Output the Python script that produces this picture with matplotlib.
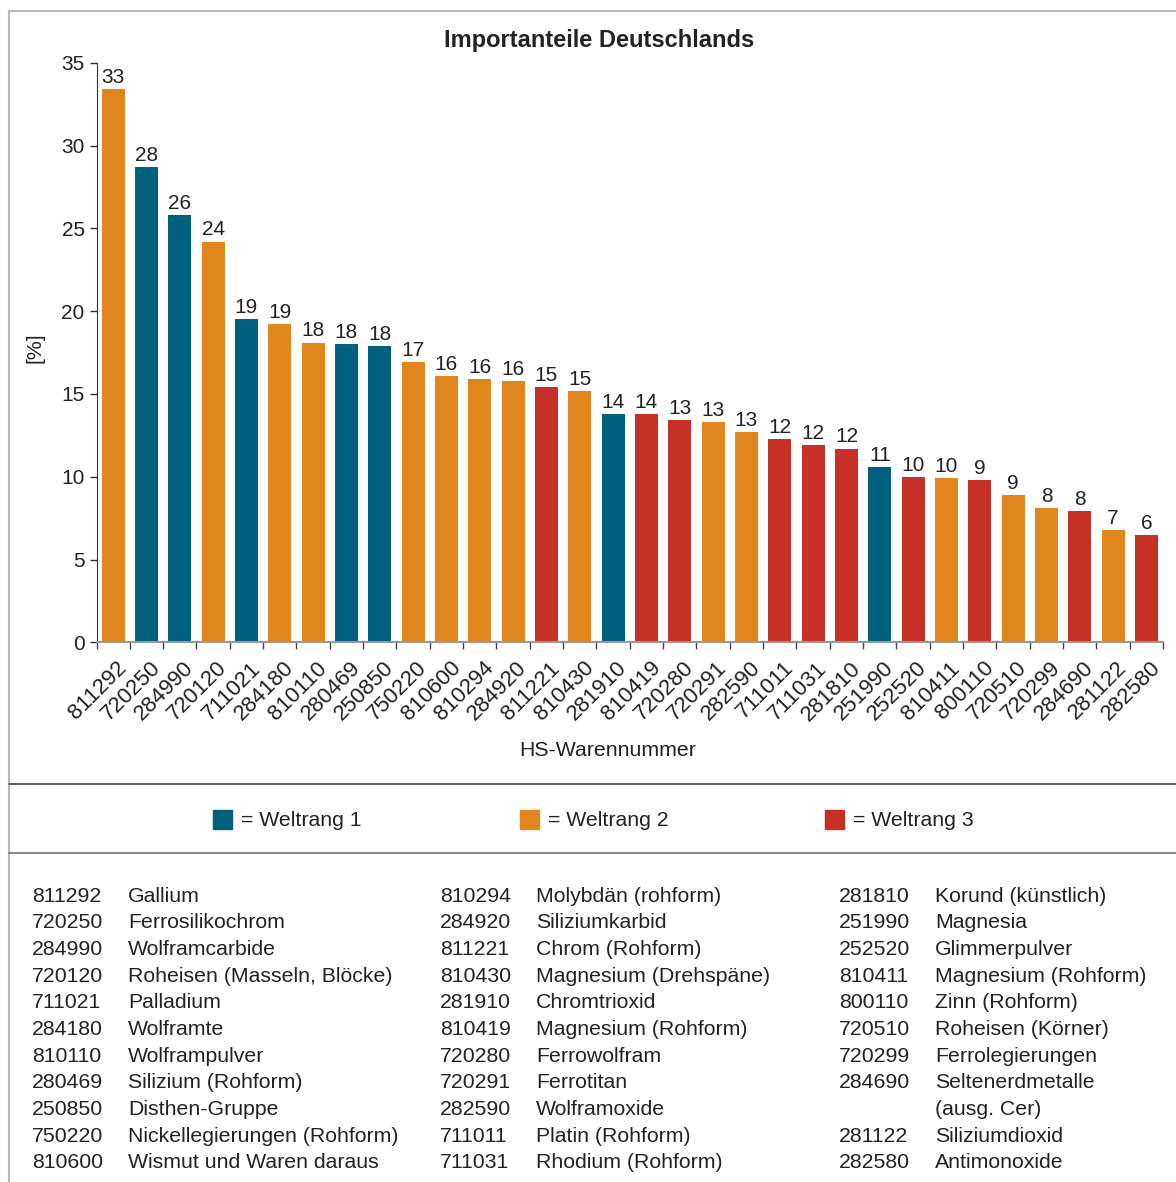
import matplotlib
matplotlib.use("Agg")
import matplotlib.pyplot as plt
from matplotlib.lines import Line2D
from matplotlib.patches import Rectangle
import numpy as np

plt.rcParams['font.family'] = ['Liberation Sans', 'DejaVu Sans']

# HS codes, import share (%) and world rank of Germany
codes = ["811292", "720250", "284990", "720120", "711021", "284180", "810110", "280469",
         "250850", "750220", "810600", "810294", "284920", "811221", "810430", "281910",
         "810419", "720280", "720291", "282590", "711011", "711031", "281810", "251990",
         "252520", "810411", "800110", "720510", "720299", "284690", "281122", "282580"]
shares = [33.4, 28.7, 25.8, 24.2, 19.5, 19.2, 18.1, 18.0, 17.9, 16.9, 16.1, 15.9, 15.8,
          15.4, 15.2, 13.8, 13.8, 13.4, 13.3, 12.7, 12.3, 11.9, 11.7, 10.6, 10.0, 9.9,
          9.8, 8.9, 8.1, 7.9, 6.8, 6.5]
value_labels = ["33", "28", "26", "24", "19", "19", "18", "18", "18", "17", "16", "16", "16",
                "15", "15", "14", "14", "13", "13", "13", "12", "12", "12", "11", "10", "10",
                "9", "9", "8", "8", "7", "6"]
ranks = [2, 1, 1, 2, 1, 2, 2, 1, 1, 2, 2, 2, 2, 3, 2, 1, 3, 3, 2, 2, 3, 3, 3, 1, 3, 2, 3,
         2, 2, 3, 2, 3]

rank_names = ["= Weltrang 1", "= Weltrang 2", "= Weltrang 3"]
rank_colors = {1: "#00607d", 2: "#e0861c", 3: "#c63027"}

# legend list below the chart (code, name), three columns
list_col1 = [("811292", "Gallium"), ("720250", "Ferrosilikochrom"), ("284990", "Wolframcarbide"),
             ("720120", "Roheisen (Masseln, Blöcke)"), ("711021", "Palladium"),
             ("284180", "Wolframte"), ("810110", "Wolframpulver"), ("280469", "Silizium (Rohform)"),
             ("250850", "Disthen-Gruppe"), ("750220", "Nickellegierungen (Rohform)"),
             ("810600", "Wismut und Waren daraus")]
list_col2 = [("810294", "Molybdän (rohform)"), ("284920", "Siliziumkarbid"),
             ("811221", "Chrom (Rohform)"), ("810430", "Magnesium (Drehspäne)"),
             ("281910", "Chromtrioxid"), ("810419", "Magnesium (Rohform)"),
             ("720280", "Ferrowolfram"), ("720291", "Ferrotitan"), ("282590", "Wolframoxide"),
             ("711011", "Platin (Rohform)"), ("711031", "Rhodium (Rohform)")]
list_col3 = [("281810", "Korund (künstlich)"), ("251990", "Magnesia"), ("252520", "Glimmerpulver"),
             ("810411", "Magnesium (Rohform)"), ("800110", "Zinn (Rohform)"),
             ("720510", "Roheisen (Körner)"), ("720299", "Ferrolegierungen"),
             ("284690", "Seltenerdmetalle"), ("", "(ausg. Cer)"), ("281122", "Siliziumdioxid"),
             ("282580", "Antimonoxide")]

W, H = 1176, 1182
fig = plt.figure(figsize=(W / 100, H / 100), dpi=100)
txt = "#222222"
FS = 15.3

def fx(px):
    return px / W

def fy(py):
    return 1 - py / H

# main axes
ax = fig.add_axes([fx(96.5), fy(642.3), fx(1066.6), fy(62.7) - fy(642.3)])
x = np.arange(len(codes))
colors = [rank_colors[r] for r in ranks]
ax.bar(x, shares, width=0.69, color=colors)
for xi, v, lab in zip(x, shares, value_labels):
    ax.annotate(lab, (xi, v), xytext=(0, 1.5), textcoords="offset points",
                ha="center", va="bottom", fontsize=15, color=txt)

ax.set_xlim(-0.5, len(codes) - 0.5)
ax.set_ylim(0, 35)
ax.set_yticks(np.arange(0, 36, 5))
ax.tick_params(axis="y", labelsize=15, labelcolor=txt, color="#333333", length=5, width=1)
ax.set_xticks(x + 0.1)
ax.set_xticklabels(codes, rotation=45, ha="right", va="top", rotation_mode="anchor",
                   fontsize=16, color=txt)
ax.tick_params(axis="x", which="major", length=0, pad=11)
ax.set_xticks(np.arange(-0.5, len(codes), 1.0), minor=True)
ax.tick_params(axis="x", which="minor", length=5, color="#444444", width=1)
for s in ["top", "right"]:
    ax.spines[s].set_visible(False)
ax.spines["left"].set_color("#333333")
ax.spines["bottom"].set_color("#999999")
ax.spines["bottom"].set_linewidth(1.5)

fig.text(fx(599), fy(41), "Importanteile Deutschlands", ha="center", va="center",
         fontsize=17, fontweight="bold", color=txt)
fig.text(fx(35), fy(348), "[%]", ha="center", va="center", rotation=90, fontsize=FS, color=txt)
fig.text(fx(608), fy(750), "HS-Warennummer", ha="center", va="center", fontsize=FS, color=txt)

# frame and separator lines
fig.add_artist(Line2D([fx(9), fx(9)], [fy(11), 0], transform=fig.transFigure,
                      color="#bbbbbb", lw=1.5))
fig.add_artist(Line2D([fx(9), 1], [fy(11), fy(11)], transform=fig.transFigure,
                      color="#bbbbbb", lw=1.5))
fig.add_artist(Line2D([fx(9), 1], [fy(784), fy(784)], transform=fig.transFigure,
                      color="#444444", lw=1.2))
fig.add_artist(Line2D([fx(9), 1], [fy(853), fy(853)], transform=fig.transFigure,
                      color="#888888", lw=1.5))

# legend row
leg_x = [213, 520, 825]
for lx, r, name in zip(leg_x, [1, 2, 3], rank_names):
    fig.add_artist(Rectangle((fx(lx), fy(829)), fx(19), fy(810) - fy(829),
                             transform=fig.transFigure, color=rank_colors[r]))
    fig.text(fx(lx + 28), fy(820), name, ha="left", va="center", fontsize=FS, color=txt)

# code list
row_y0, row_dy = 896, 26.7
for cols, (cx, nx) in zip([list_col1, list_col2, list_col3], [(32, 128), (440, 536), (839, 935)]):
    for i, (code, name) in enumerate(cols):
        yy = fy(row_y0 + i * row_dy)
        fig.text(fx(cx), yy, code, ha="left", va="center", fontsize=FS, color=txt)
        fig.text(fx(nx), yy, name, ha="left", va="center", fontsize=FS, color=txt)

fig.savefig("out.png", dpi=100)
